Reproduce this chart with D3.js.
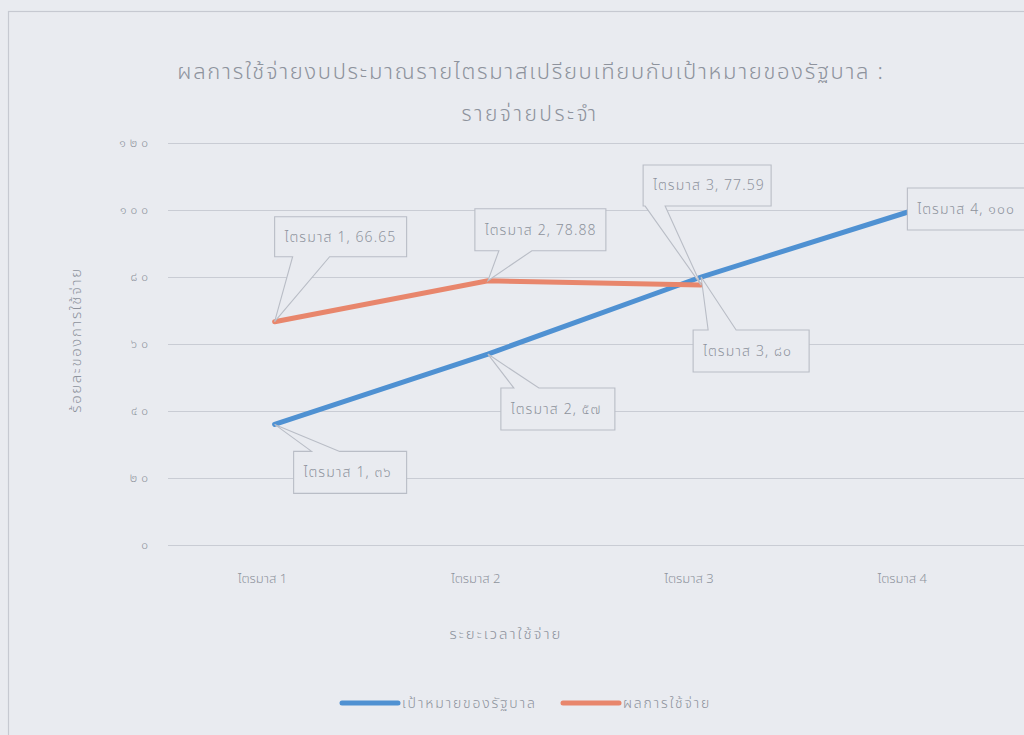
<!DOCTYPE html>
<html>
<head>
<meta charset="utf-8">
<script src="https://cdn.jsdelivr.net/npm/d3@7"></script>
<style>
  html, body { margin: 0; padding: 0; background: #e9ebf0; }
  svg { display: block; }
  text { font-family: "Noto Sans Thai", "Noto Sans Thai UI", "Noto Sans", "DejaVu Sans", sans-serif; fill: #8e939d; font-weight: 300; }
</style>
</head>
<body>
<svg id="chart" width="1024" height="735"></svg>
<script>
// ---- data ----
const categories = ["ไตรมาส 1", "ไตรมาส 2", "ไตรมาส 3", "ไตรมาส 4"];
const targetValues = [36, 57, 80, 100];          // เป้าหมายของรัฐบาล
const targetLabels = ["๓๖", "๕๗", "๘๐", "๑๐๐"];
const actualValues = [66.65, 78.88, 77.59];      // ผลการใช้จ่าย
const actualLabels = ["66.65", "78.88", "77.59"];
const yTicks = [0, 20, 40, 60, 80, 100, 120];
const yTickLabels = ["๐", "๒๐", "๔๐", "๖๐", "๘๐", "๑๐๐", "๑๒๐"];
const seriesNames = ["เป้าหมายของรัฐบาล", "ผลการใช้จ่าย"];
const titleLines = ["ผลการใช้จ่ายงบประมาณรายไตรมาสเปรียบเทียบกับเป้าหมายของรัฐบาล :", "รายจ่ายประจำ"];
const xTitle = "ระยะเวลาใช้จ่าย";
const yTitle = "ร้อยละของการใช้จ่าย";

// ---- layout / style ----
const colors = { target: "#4f91d2", actual: "#e8866c", grid: "#c9ccd4", frame: "#c6c9d1", bg: "#e9ebf0" };
// callout placement relative to the data point: box offset, size, wedge side and base
const targetCallouts = [
  { dx: 19, dy: 27, w: 113, h: 42, side: "top", b0: 18, b1: 46 },
  { dx: 13, dy: 34, w: 114, h: 42, side: "top", b0: 13, b1: 38 },
  { dx: -8, dy: 53, w: 116, h: 42, side: "top", b0: 15, b1: 43 },
  { dx: -7, dy: -22, w: 140, h: 42, side: "none" }
];
const actualCallouts = [
  { dx: 0, dy: -105, w: 132, h: 40, side: "bottom", b0: 18, b1: 55 },
  { dx: -13, dy: -72, w: 131, h: 42, side: "bottom", b0: 24, b1: 57 },
  { dx: -58, dy: -120, w: 128, h: 41, side: "bottom", b0: 2, b1: 22 }
];

const svg = d3.select("#chart");
svg.append("rect").attr("x", 0).attr("y", 0).attr("width", 1024).attr("height", 735).attr("fill", colors.bg);
// chart frame
svg.append("rect").attr("x", 8.5).attr("y", 11.5).attr("width", 1040).attr("height", 740)
  .attr("fill", "none").attr("stroke", colors.frame).attr("stroke-width", 1.2);

const x = d3.scaleBand().domain(categories).range([168, 1021]).padding(0);
const xc = c => x(c) + x.bandwidth() / 2;
const y = d3.scaleLinear().domain([0, 120]).range([545, 143]);

// gridlines
svg.append("g").selectAll("line").data(yTicks).join("line")
  .attr("x1", 168).attr("x2", 1024)
  .attr("y1", d => y(d) + 0.5).attr("y2", d => y(d) + 0.5)
  .attr("stroke", colors.grid).attr("stroke-width", 1.2);

// y axis tick labels
svg.append("g").selectAll("text").data(yTicks).join("text")
  .attr("x", 152).attr("y", d => y(d)).attr("dy", "0.35em")
  .attr("text-anchor", "end").style("font-size", "12px").style("letter-spacing", "4px")
  .text((d, i) => yTickLabels[i]);

// x axis labels
svg.append("g").selectAll("text").data(categories).join("text")
  .attr("x", d => xc(d) - 12).attr("y", 578).attr("dy", "0.35em")
  .attr("text-anchor", "middle").style("font-size", "13px")
  .text(d => d);

// titles
svg.append("text").attr("x", 531).attr("y", 71).attr("dy", "0.35em").attr("text-anchor", "middle")
  .style("font-size", "22px").style("letter-spacing", "1.7px").text(titleLines[0]);
svg.append("text").attr("x", 530).attr("y", 114).attr("dy", "0.35em").attr("text-anchor", "middle")
  .style("font-size", "21px").style("letter-spacing", "2.5px").text(titleLines[1]);
svg.append("text").attr("x", 506).attr("y", 634).attr("dy", "0.35em").attr("text-anchor", "middle")
  .style("font-size", "15px").style("letter-spacing", "2px").text(xTitle);
svg.append("text").attr("transform", "translate(76,340) rotate(-90)").attr("dy", "0.35em")
  .attr("text-anchor", "middle").style("font-size", "15px").style("letter-spacing", "1.6px").text(yTitle);

// lines
const line = d3.line().x(d => xc(d.c)).y(d => y(d.v));
const targetData = targetValues.map((v, i) => ({ c: categories[i], v }));
const actualData = actualValues.map((v, i) => ({ c: categories[i], v }));
svg.append("path").datum(targetData).attr("d", line).attr("fill", "none")
  .attr("stroke", colors.target).attr("stroke-width", 5).attr("stroke-linecap", "round");
svg.append("path").datum(actualData).attr("d", line).attr("fill", "none")
  .attr("stroke", colors.actual).attr("stroke-width", 5).attr("stroke-linecap", "round");

// callouts
function calloutPath(px, py, o) {
  const bx = px + o.dx, by = py + o.dy, w = o.w, h = o.h;
  const p = d3.path();
  if (o.side === "top") {
    p.moveTo(bx, by);
    p.lineTo(bx + o.b0, by); p.lineTo(px, py); p.lineTo(bx + o.b1, by);
    p.lineTo(bx + w, by); p.lineTo(bx + w, by + h); p.lineTo(bx, by + h); p.closePath();
  } else if (o.side === "bottom") {
    p.moveTo(bx, by); p.lineTo(bx + w, by); p.lineTo(bx + w, by + h);
    p.lineTo(bx + o.b1, by + h); p.lineTo(px, py); p.lineTo(bx + o.b0, by + h);
    p.lineTo(bx, by + h); p.closePath();
  } else {
    p.rect(bx, by, w, h);
  }
  return p.toString();
}
function drawCallouts(data, labels, layout) {
  const g = svg.append("g");
  data.forEach((d, i) => {
    const o = layout[i];
    const px = xc(d.c), py = y(d.v);
    g.append("path").attr("d", calloutPath(px, py, o))
      .attr("fill", colors.bg).attr("stroke", "#b9bdc6").attr("stroke-width", 1.1);
    g.append("text").attr("x", px + o.dx + 10).attr("y", py + o.dy + o.h / 2).attr("dy", "0.35em")
      .style("font-size", "14px").style("letter-spacing", "1.1px").text(d.c + ", " + labels[i]);
  });
}
drawCallouts(targetData, targetLabels, targetCallouts);
drawCallouts(actualData, actualLabels, actualCallouts);

// legend
const legend = [
  { name: seriesNames[0], color: colors.target, x: 342 },
  { name: seriesNames[1], color: colors.actual, x: 563 }
];
const lg = svg.append("g").selectAll("g").data(legend).join("g");
lg.append("line").attr("x1", d => d.x).attr("x2", d => d.x + 56).attr("y1", 703).attr("y2", 703)
  .attr("stroke", d => d.color).attr("stroke-width", 5).attr("stroke-linecap", "round");
lg.append("text").attr("x", d => d.x + 60).attr("y", 703).attr("dy", "0.35em")
  .style("font-size", "14px").style("letter-spacing", "1.8px").text(d => d.name);
</script>
</body>
</html>
